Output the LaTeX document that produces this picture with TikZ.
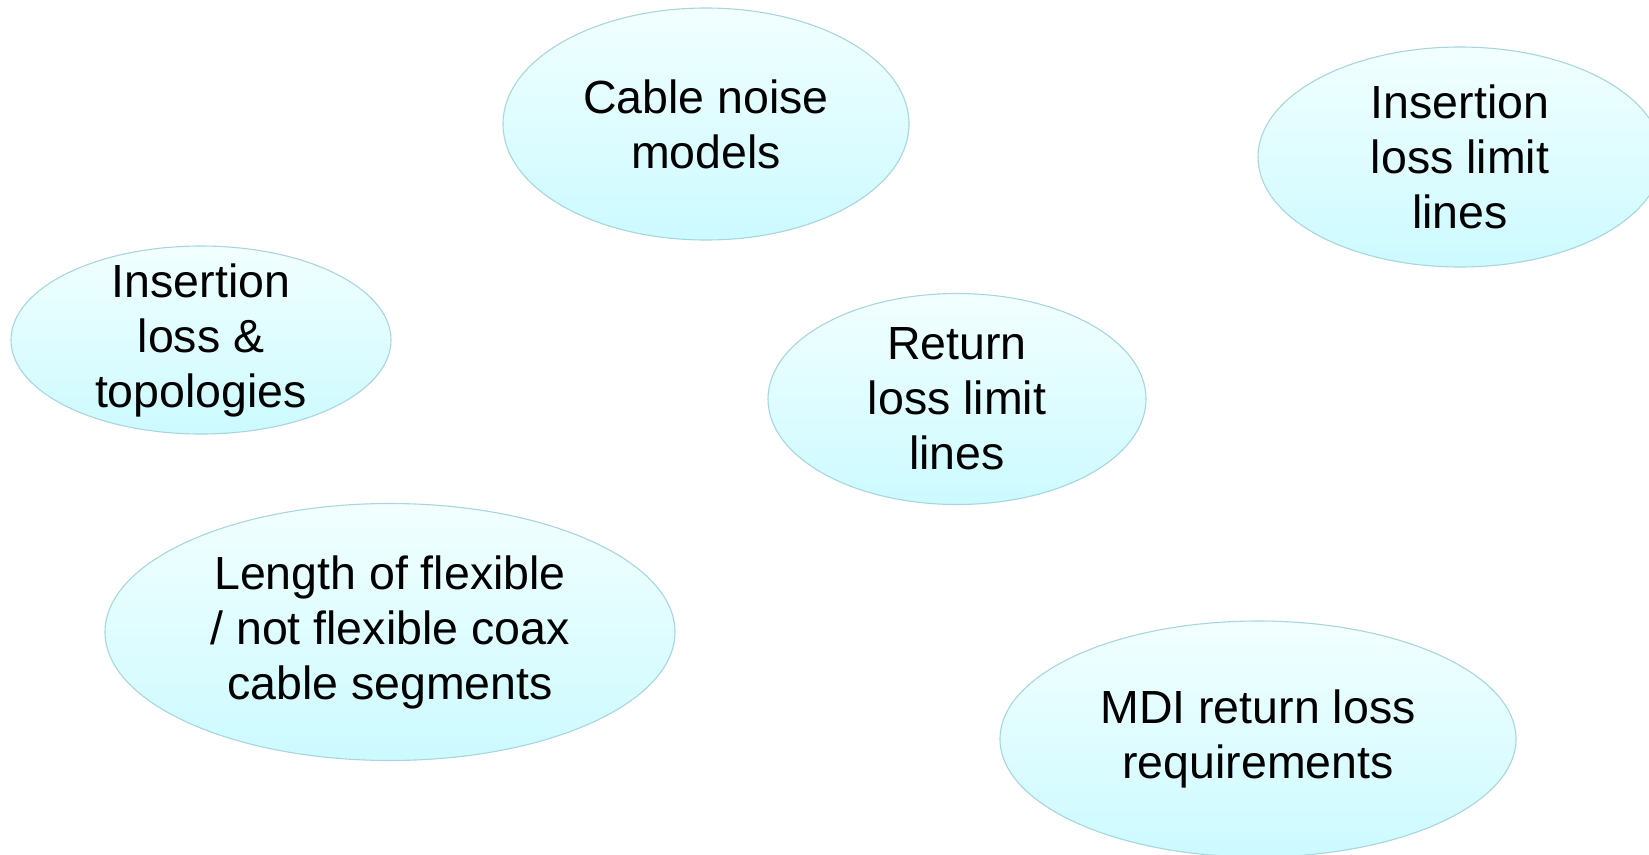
\documentclass[tikz,border=0pt]{standalone}
\usepackage{fontspec}
\setmainfont{Liberation Sans}
\usetikzlibrary{shapes.geometric}

\definecolor{bolla1}{RGB}{242,255,255}
\definecolor{bolla2}{RGB}{204,250,255}
\definecolor{bordo}{RGB}{168,214,220}

\tikzset{
    bolla/.style={ellipse, draw=bordo, line width=1.1pt, top color=bolla1, bottom color=bolla2,
        inner sep=0pt, align=center, text=black, font={\fontsize{46.5}{55}\selectfont}}
}

\begin{document}
\begin{tikzpicture}[x=1pt, y=-1pt]
    \useasboundingbox (0,0) rectangle (1649,854);
    \clip (0,0) rectangle (1649,854);
    % =========================================================
    % RIGA SUPERIORE
    % =========================================================
    \node[bolla, minimum width=406pt, minimum height=232pt] (rumore) at (706,124) {Cable noise\\models};
    \node[bolla, minimum width=404pt, minimum height=220pt] (illimiti) at (1460,157) {Insertion\\loss limit\\lines};

    % =========================================================
    % RIGA CENTRALE
    % =========================================================
    \node[bolla, minimum width=380pt, minimum height=188pt, inner ysep=-14pt] (topologie) at (201,340) {Insertion\\loss \&\\topologies};
    \node[bolla, minimum width=378pt, minimum height=211pt, inner ysep=-4pt] (rllimiti) at (957,399) {Return\\loss limit\\lines};

    % =========================================================
    % RIGA INFERIORE
    % =========================================================
    \node[bolla, minimum width=570pt, minimum height=257pt] (segmenti) at (390,632) {Length of flexible\\/ not flexible coax\\cable segments};
    \node[bolla, minimum width=516pt, minimum height=236pt] (mdi) at (1258,739) {MDI return loss\\requirements};
\end{tikzpicture}
\end{document}
